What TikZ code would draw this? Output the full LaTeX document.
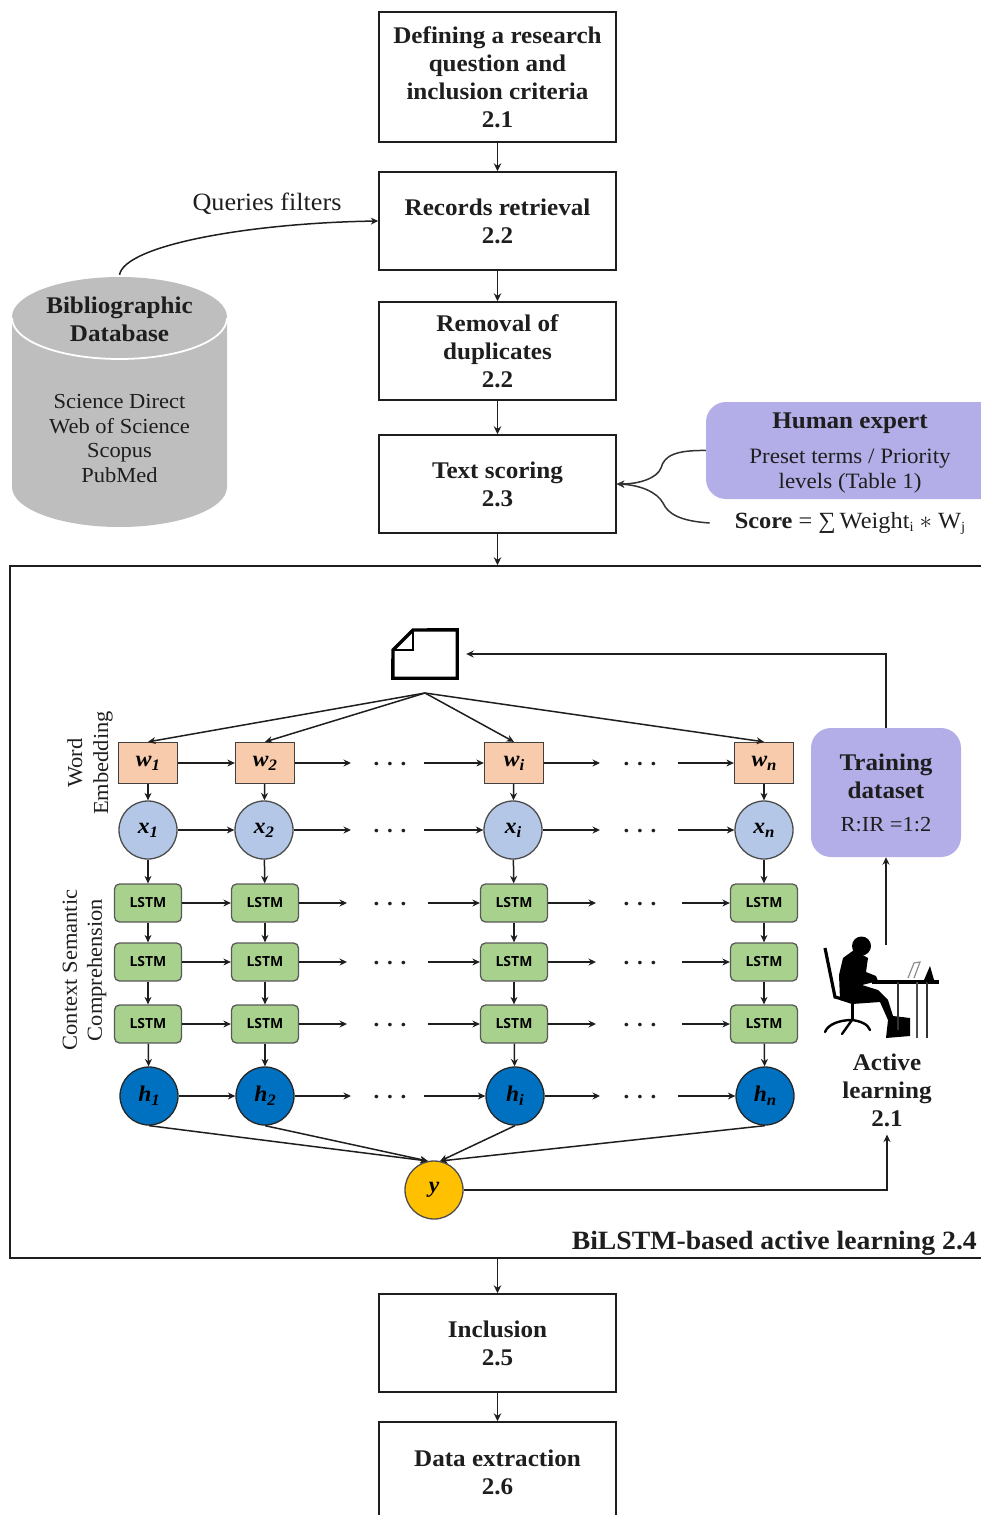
\documentclass[tikz,border=0pt]{standalone}
\usepackage{fontspec}
\setmainfont[FakeStretch=1.05]{Liberation Serif}
\newfontfamily\lstmfont{Open Sans}
\usetikzlibrary{arrows.meta,calc}
\definecolor{ink}{HTML}{1E1E1E}
\definecolor{lila}{HTML}{B3AEE8}
\definecolor{cylgray}{HTML}{BEBEBE}
\definecolor{wfill}{HTML}{F8CBAD}
\definecolor{xfill}{HTML}{B4C7E7}
\definecolor{lfill}{HTML}{A9D18E}
\definecolor{hfill}{HTML}{0070C0}
\definecolor{yfill}{HTML}{FFC000}
\newcommand{\fsz}[2]{\fontsize{#1}{#2}\selectfont}
\newcommand{\lab}[2]{\raisebox{-2pt}{\bfseries\itshape\fsz{22.5}{24}#1\raisebox{-4pt}{\fsz{16}{16}#2}}}
\newcommand{\subsc}[1]{\raisebox{-3pt}{\fsz{14}{14}#1}}
\tikzset{
  arr/.style={-{Stealth[length=8pt,width=7.5pt]},line width=1.7pt,draw=ink},
  thin arr/.style={-{Stealth[length=7.5pt,width=7pt]},line width=1.5pt,draw=ink},
  flowbox/.style={draw=ink,line width=1.5pt,minimum width=237bp,minimum height=98bp,align=center,inner sep=0pt,text=ink,font=\bfseries\fsz{24}{28}},
  wbox/.style={draw=black!75,line width=1.3pt,fill=wfill,minimum width=59bp,minimum height=41bp,inner sep=0pt},
  xcirc/.style={circle,draw=black!70,line width=1.3pt,fill=xfill,minimum size=58bp,inner sep=0pt},
  lstmbox/.style={rounded corners=5bp,draw=black!65,line width=1.3pt,fill=lfill,minimum width=67bp,minimum height=38bp,inner sep=0pt,font=\lstmfont\bfseries\fsz{14}{16}},
  hcirc/.style={circle,draw=black!85,line width=1.3pt,fill=hfill,minimum size=58bp,inner sep=0pt},
  ycirc/.style={circle,draw=black!70,line width=1.3pt,fill=yfill,minimum size=58bp,inner sep=0pt},
  lilabox/.style={rounded corners=20bp,fill=lila,inner sep=0pt},
  plain/.style={text=ink,align=center,inner sep=0pt},
  dots/.style={text=ink,inner sep=0pt,font=\bfseries\fsz{22}{24}},
}
\begin{document}
\begin{tikzpicture}[x=1bp,y=-1bp]
\useasboundingbox (0,0) rectangle (980,1515);
% flow boxes
\node[flowbox,minimum height=130bp] (b1) at (497.5,77) {Defining a research\\question and\\inclusion criteria\\2.1};
\node[flowbox] (b2) at (497.5,221) {Records retrieval\\2.2};
\node[flowbox] (b3) at (497.5,351) {Removal of\\duplicates\\2.2};
\node[flowbox] (b4) at (497.5,484) {Text scoring\\2.3};
\node[draw=ink,line width=1.5pt,minimum width=990bp,minimum height=692bp,inner sep=0pt] (frame) at (505,912) {};
\node[flowbox] (b5) at (497.5,1343) {Inclusion\\2.5};
\node[flowbox,minimum height=100bp] (b6) at (497.5,1472) {Data extraction\\2.6};
\draw[arr] (b1) -- (b2);
\draw[arr] (b2) -- (b3);
\draw[arr] (b3) -- (b4);
\draw[arr] (b4.south) -- (b4.south |- frame.north);
\draw[arr] (b5.north |- frame.south) -- (b5.north);
\draw[arr] (b5) -- (b6);
\node[plain,anchor=east,font=\bfseries\fsz{26.5}{28}] (flabel) at (977,1243) {BiLSTM-based active learning 2.4};
% database
\node[minimum width=215bp,minimum height=250bp,inner sep=0pt] (db) at (119.5,402) {};
\fill[cylgray] (12,317) -- (12,487) .. controls (12,509) and (60,527) .. (119.5,527) .. controls (179,527) and (227,509) .. (227,487) -- (227,317) -- cycle;
\fill[cylgray] (119.5,317) ellipse[x radius=107.5,y radius=40];
\draw[white,line width=1.8pt] (12,318) .. controls (12,341) and (60,359) .. (119.5,359) .. controls (179,359) and (227,341) .. (227,318);
\node[plain,font=\bfseries\fsz{24}{28}] (dbt) at (119.5,319) {Bibliographic\\Database};
\node[plain,font=\fsz{21.5}{25}] (dbl) at (119.5,438.5) {Science Direct\\Web of Science\\Scopus\\PubMed};
\draw[thin arr] (db.north) ++(0,-2) .. controls (125,245) and (250,223) .. (b2.west);
\node[plain,font=\fsz{25}{28}] (qf) at (267,204) {Queries filters};
% human expert
\node[lilabox,minimum width=304bp,minimum height=97bp] (he) at (858,450.5) {};
\node[plain,font=\bfseries\fsz{24}{28}] (het) at (850,423.5) {Human expert};
\node[plain,font=\fsz{22}{25}] (hel) at (850,471) {Preset terms / Priority\\levels (Table 1)};
\node[plain,anchor=center,inner xsep=25bp,font=\fsz{23.3}{25}] (score) at (850,523) {\textbf{Score} = ∑\,Weight\subsc{i} $*$ W\subsc{j}};
\draw[-{Stealth[length=7.5pt,width=7pt]},line width=1.5pt,draw=black!80] (he.west) .. controls (675,450) and (664,456) .. (661,468) .. controls (657,478) and (640,484) .. (b4.east);
\draw[-{Stealth[length=7.5pt,width=7pt]},line width=1.5pt,draw=black!80] (score.west) .. controls (680,521) and (668,514) .. (663,503) .. controls (657,492) and (640,485) .. (b4.east);
% document icon
\node[minimum width=64bp,minimum height=48bp,inner sep=0pt] (doc) at (425,654) {};
\draw[black,line width=3.4pt,line join=miter] (393,650) -- (413,630) -- (doc.north east) -- (doc.south east) -- (doc.south west) -- cycle;
\draw[black,line width=2.4pt] (393,650) -- (413,650) -- (413,630);
\coordinate (fan) at (425,693);
% network
\foreach \c/\X/\lbl/\cx/\hx in {1/148/1/148/149, 2/265/2/264/265, i/514/i/513/515, n/764/n/764/765} {
  \node[wbox] (w\c) at (\X,763) {\lab{w}{\lbl}};
  \node[xcirc] (x\c) at (\cx,830) {\lab{x}{\lbl}};
  \node[lstmbox] (la\c) at (\X,903) {LSTM};
  \node[lstmbox] (lb\c) at (\X,962) {LSTM};
  \node[lstmbox] (lc\c) at (\X,1024) {LSTM};
  \node[hcirc] (h\c) at (\hx,1096) {\lab{h}{\lbl}};
  \draw[thin arr] (fan) -- (w\c.north);
  \draw[thin arr] (w\c) -- (x\c);
  \draw[thin arr] (x\c) -- (la\c);
  \draw[thin arr] (la\c) -- (lb\c);
  \draw[thin arr] (lb\c) -- (lc\c);
  \draw[thin arr] (lc\c) -- (h\c);
}
\foreach \r/\Y/\xa/\xb/\xc/\xd in {w/763/351/424/600/678, x/830/351/424/600/678, la/903/347/428/596/682, lb/962/347/428/596/682, lc/1024/347/428/596/682, h/1096/351/424/600/678} {
  \draw[thin arr] (\r1) -- (\r2);
  \coordinate (\r-a) at (\xa,\Y);
  \coordinate (\r-b) at (\xb,\Y);
  \coordinate (\r-c) at (\xc,\Y);
  \coordinate (\r-d) at (\xd,\Y);
  \draw[thin arr] (\r2) -- (\r-a);
  \draw[thin arr] (\r-b) -- (\r i);
  \draw[thin arr] (\r i) -- (\r-c);
  \draw[thin arr] (\r-d) -- (\r n);
  \node[dots] (\r-da) at (390,\Y+1) {. . .};
  \node[dots] (\r-db) at (640,\Y+1) {. . .};
}
\node[ycirc] (y) at (434,1190) {\raisebox{-2pt}{\lab{y}{}}};
\draw[thin arr] (h1.south) -- (y.102);
\draw[thin arr] (h2.south) -- (y.102);
\draw[thin arr] (hi.south) -- (y.78);
\draw[thin arr] (hn.south) -- (y.78);
% side labels
\node[plain,rotate=90,font=\fsz{21.5}{26}] (le) at (90,763) {Word\\Embedding};
\node[plain,rotate=90,font=\fsz{21.5}{25}] (lc) at (84.5,970) {Context Semantic\\Comprehension};
% training dataset
\node[lilabox,minimum width=150bp,minimum height=129bp,align=center,text=ink,font=\bfseries\fsz{24}{28}] (train) at (886,792.5) {Training\\dataset\\[5pt]\mdseries\fsz{21.5}{25}R:IR =1:2};
\node[plain,font=\bfseries\fsz{24}{28}] (al) at (887,1090) {Active\\learning\\2.1};
\coordinate (person) at (886,945);
\draw[thin arr,shorten >=8bp] (y.east) -| (al.south);
\draw[thin arr] (person) -- (train.south);
\draw[thin arr,shorten >=9bp] (train.north) |- (doc.east);
% person at a desk
\fill[black] (861.5,946) circle[radius=9.5];
\fill[black] (854,950) -- (843,958) -- (839,975) -- (840,1000) -- (852,1004) -- (880,1002) -- (888,1020) -- (886,1038) -- (910,1036) -- (910,1018) -- (893,1016) -- (888,1000) -- (878,990) -- (862,985) -- (878,981) -- (876,976) -- (866,972) -- (868,958) -- cycle;
\draw[black,line width=3.2pt] (825,948) -- (835,997) -- (850,1001);
\draw[black,line width=3pt] (852,1002) -- (852,1020);
\draw[black,line width=2.4pt,line cap=round] (852,1020) .. controls (840,1020) and (828,1024) .. (825,1032);
\draw[black,line width=2.4pt,line cap=round] (852,1020) .. controls (860,1021) and (868,1024) .. (870,1030);
\draw[black,line width=2.4pt,line cap=round] (852,1020) -- (842,1034);
\draw[black,line width=3.6pt] (872,982) -- (939,982);
\draw[black!80,line width=2pt] (898,982) -- (898,1030);
\draw[black!70,line width=1.6pt] (917,982) -- (917,1038);
\draw[black!80,line width=2pt] (927,982) -- (927,1038);
\draw[black!45,line width=1.2pt] (908,978) -- (914,963) -- (920,962) -- (914,978);
\fill[black] (924,980) -- (930,966) -- (934,980) -- cycle;
\end{tikzpicture}
\end{document}
